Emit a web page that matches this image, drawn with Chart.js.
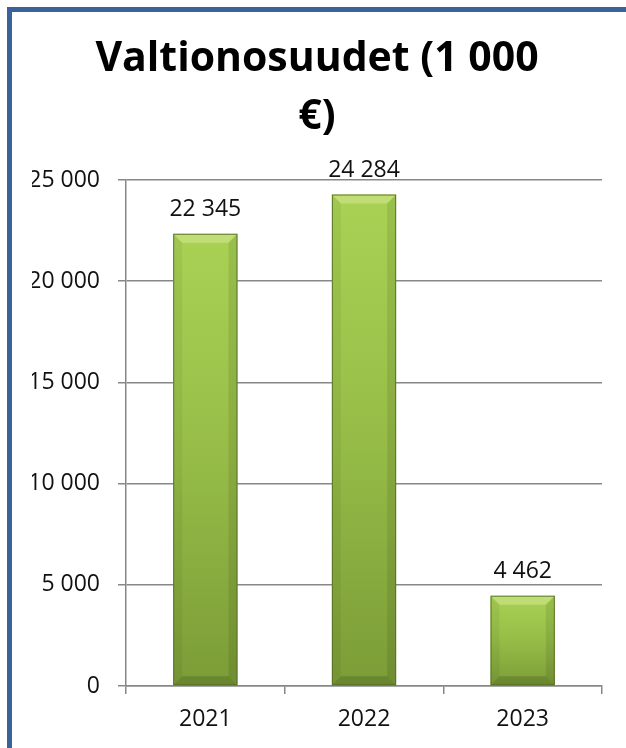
<!DOCTYPE html>
<html>
<head>
<meta charset="utf-8">
<script src="https://cdn.jsdelivr.net/npm/chart.js@4.4.1/dist/chart.umd.min.js"></script>
<style>
  html, body { margin: 0; padding: 0; background: #fff; overflow: hidden; }
  #frame {
    position: absolute; left: 7px; top: 7px; width: 700px; height: 800px;
    border-left: 5px solid #3a6399; border-top: 5px solid #3a6399;
  }
  #wrap { position: absolute; left: 0; top: 0; width: 626px; height: 748px; }
</style>
</head>
<body>
<div id="frame"></div>
<div id="wrap"><canvas id="myChart"></canvas></div>
<script>
const years = ["2021", "2022", "2023"];
const values = [22345, 24284, 4462];
const yTicks = [0, 5000, 10000, 15000, 20000, 25000];
const titleLines = ["Valtionosuudet (1 000", "€)"];

const FONT = "'Open Sans', 'Liberation Sans', sans-serif";
const GRID = "#878787";

function fmt(n) {
	return String(n).replace(/\B(?=(\d{3})+(?!\d))/g, " ");
}

// green gradient per bar, light at top, darker at the base
function barFill(ctx) {
	const chart = ctx.chart;
	const { chartArea, scales } = chart;
	if (!chartArea) return "#94b945";
	const top = scales.y.getPixelForValue(ctx.raw);
	const bottom = scales.y.getPixelForValue(0);
	const g = chart.ctx.createLinearGradient(0, top, 0, bottom);
	g.addColorStop(0, "#a9d254");
	g.addColorStop(0.5, "#96bc47");
	g.addColorStop(1, "#7b9c37");
	return g;
}

const bevelPlugin = {
	id: "bevel",
	afterDatasetsDraw(chart) {
		const c = chart.ctx;
		const meta = chart.getDatasetMeta(0);
		meta.data.forEach((bar) => {
			const l = bar.x - bar.width / 2;
			const r = bar.x + bar.width / 2;
			const t = bar.y;
			const b = bar.base;
			const d = Math.min(9, (b - t) / 2);
			const poly = (pts, col) => {
				c.beginPath();
				c.moveTo(pts[0][0], pts[0][1]);
				pts.slice(1).forEach((p) => c.lineTo(p[0], p[1]));
				c.closePath();
				c.fillStyle = col;
				c.fill();
			};
			c.save();
			poly([[l, t], [r, t], [r - d, t + d], [l + d, t + d]], "rgba(255,255,210,0.28)");
			poly([[l, t], [l + d, t + d], [l + d, b - d], [l, b]], "rgba(0,0,0,0.05)");
			poly([[r, t], [r - d, t + d], [r - d, b - d], [r, b]], "rgba(0,0,0,0.09)");
			poly([[l, b], [l + d, b - d], [r - d, b - d], [r, b]], "rgba(0,0,0,0.14)");
			c.strokeStyle = "rgba(85,110,35,0.9)";
			c.lineWidth = 1;
			c.strokeRect(l + 0.5, t + 0.5, r - l - 1, b - t - 1);
			c.restore();
		});
	},
};

const valueLabels = {
	id: "valueLabels",
	afterDatasetsDraw(chart) {
		const c = chart.ctx;
		const meta = chart.getDatasetMeta(0);
		c.save();
		c.font = "23px " + FONT;
		c.fillStyle = "#111";
		c.textAlign = "center";
		c.textBaseline = "alphabetic";
		meta.data.forEach((bar, i) => {
			c.fillText(fmt(values[i]), bar.x, bar.y - 18);
		});
		c.restore();
	},
};

function drawChart() {
	const ctx = document.getElementById("myChart");
	new Chart(ctx, {
		type: "bar",
		data: {
			labels: years,
			datasets: [
				{
					data: values,
					backgroundColor: barFill,
					borderWidth: 0,
					categoryPercentage: 1,
					barPercentage: 0.405,
				},
			],
		},
		options: {
			responsive: true,
			maintainAspectRatio: false,
			animation: false,
			layout: { padding: { left: 32, right: 24, top: 0, bottom: 0 } },
			plugins: {
				legend: { display: false },
				tooltip: { enabled: false },
				title: {
					display: true,
					text: titleLines,
					color: "#000",
					font: { family: FONT, size: 41, weight: "bold", lineHeight: 1.415 },
					padding: { top: 30, bottom: 34 },
				},
			},
			scales: {
				x: {
					grid: {
						drawOnChartArea: false,
						drawTicks: true,
						tickLength: 8,
						offset: true,
						color: GRID,
						lineWidth: 1.5,
					},
					border: { color: GRID, width: 1.5 },
					ticks: { color: "#111", font: { family: FONT, size: 23 }, padding: 12 },
					afterFit(scale) {
						scale.height = 62;
					},
				},
				y: {
					min: 0,
					max: yTicks[yTicks.length - 1],
					afterBuildTicks(scale) {
						scale.ticks = yTicks.map((v) => ({ value: v }));
					},
					grid: { color: GRID, lineWidth: 1.5, tickLength: 8 },
					border: { color: GRID, width: 1.5 },
					ticks: {
						color: "#111",
						font: { family: FONT, size: 23 },
						padding: 18,
						callback: (v) => fmt(v),
					},
					afterFit(scale) {
						scale.width = 94;
					},
				},
			},
		},
		plugins: [bevelPlugin, valueLabels],
	});
}

drawChart();
</script>
</body>
</html>
